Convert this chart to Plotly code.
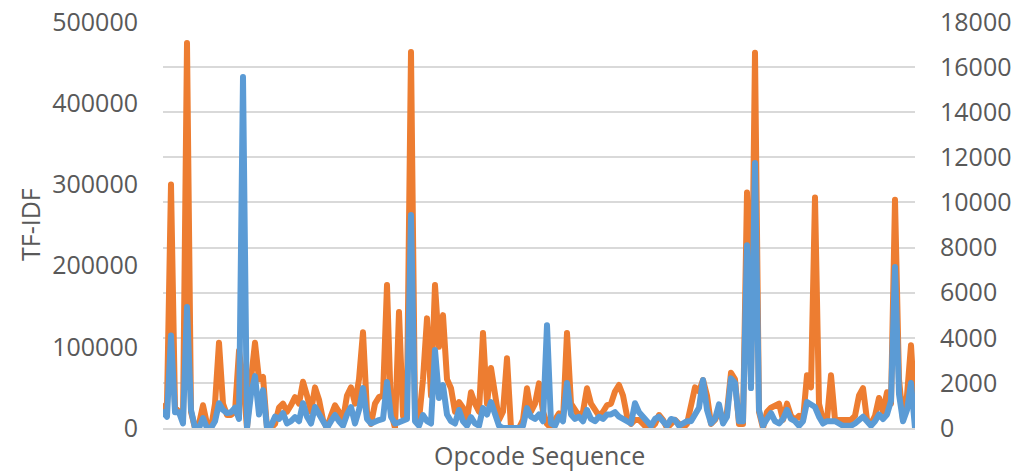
import plotly.graph_objects as go

# TF-IDF (left axis, orange) and second series (right axis, blue), one value per opcode position
tfidf = [25000, 30000, 300000, 25000, 20000, 10000, 474000, 20000, 0, 5000,
         28000, 5000, 0, 30000, 105000, 30000, 16000, 16000, 20000, 95000,
         60000, 0, 60000, 105000, 60000, 63000, 0, 0, 5000, 25000,
         30000, 20000, 28000, 38000, 30000, 57000, 40000, 20000, 50000, 35000,
         10000, 0, 15000, 28000, 20000, 10000, 40000, 50000, 30000, 60000,
         118000, 20000, 5000, 30000, 38000, 40000, 176000, 20000, 0, 143000,
         15000, 40000, 463000, 20000, 10000, 60000, 135000, 40000, 176000, 100000,
         139000, 60000, 49000, 20000, 32000, 25000, 10000, 44000, 30000, 20000,
         117000, 30000, 74000, 40000, 10000, 20000, 86000, 0, 0, 0,
         10000, 49000, 20000, 30000, 55000, 20000, 5000, 0, 10000, 18000,
         10000, 117000, 30000, 22000, 15000, 20000, 49000, 30000, 22000, 15000,
         20000, 28000, 30000, 45000, 53000, 40000, 15000, 5000, 10000, 10000,
         5000, 0, 0, 5000, 16000, 10000, 0, 5000, 10000, 5000,
         0, 5000, 25000, 50000, 45000, 59000, 40000, 5000, 10000, 20000,
         10000, 20000, 68000, 60000, 5000, 5000, 290000, 60000, 462000, 20000,
         0, 20000, 25000, 28000, 30000, 10000, 30000, 15000, 10000, 15000,
         10000, 65000, 50000, 284000, 30000, 10000, 10000, 65000, 10000, 10000,
         10000, 10000, 10000, 15000, 40000, 49000, 10000, 5000, 15000, 37000,
         20000, 44000, 30000, 281000, 60000, 10000, 40000, 102000, 20000]

series2 = [700, 500, 4100, 700, 700, 200, 5360, 800, 0, 0,
           440, 0, 0, 300, 1100, 800, 660, 700, 900, 400,
           15560, 0, 1500, 2300, 600, 1680, 0, 100, 500, 400,
           660, 200, 300, 480, 300, 1100, 500, 200, 930, 600,
           200, 0, 300, 575, 300, 100, 600, 930, 200, 800,
           1770, 400, 200, 300, 350, 400, 2040, 500, 200, 250,
           300, 400, 9440, 300, 100, 575, 300, 200, 3460, 1330,
           1900, 600, 300, 200, 800, 300, 100, 480, 200, 100,
           880, 600, 1150, 500, 100, 0, 0, 0, 0, 0,
           100, 880, 500, 400, 600, 300, 4560, 200, 100, 500,
           300, 2000, 600, 400, 500, 300, 800, 400, 300, 500,
           400, 600, 600, 700, 500, 400, 300, 200, 1100, 700,
           500, 300, 100, 400, 500, 300, 100, 400, 350, 100,
           200, 300, 300, 600, 900, 2130, 800, 200, 400, 1050,
           200, 500, 2200, 2000, 300, 300, 8100, 1770, 11750, 800,
           100, 400, 660, 300, 200, 400, 800, 400, 300, 100,
           300, 1150, 1000, 930, 500, 200, 300, 300, 300, 200,
           100, 100, 100, 200, 400, 500, 300, 100, 300, 600,
           400, 600, 1200, 7140, 1500, 300, 800, 2000, 0]

positions = list(range(len(tfidf)))
left_ticks = [0, 100000, 200000, 300000, 400000, 500000]
right_ticks = [0, 2000, 4000, 6000, 8000, 10000, 12000, 14000, 16000, 18000]

FONT = "Open Sans"
GREY = "#595959"
L, R, T, B = 163, 107, 22, 44
PW = 1022 - L - R
PH = 472 - T - B

fig = go.Figure()
fig.add_trace(go.Scatter(x=positions, y=tfidf, mode="lines",
                         line=dict(color="#ED7D31", width=6), yaxis="y",
                         showlegend=False, cliponaxis=False))
fig.add_trace(go.Scatter(x=positions, y=series2, mode="lines",
                         line=dict(color="#5B9BD5", width=6), yaxis="y2",
                         showlegend=False, cliponaxis=False))

fig.update_layout(
    width=1022, height=472,
    margin=dict(l=L, r=R, t=T, b=B, autoexpand=False),
    paper_bgcolor="white", plot_bgcolor="white",
    font=dict(family=FONT, color=GREY, size=24),
    xaxis=dict(range=[0, len(tfidf) - 1], showticklabels=False, showgrid=False,
               zeroline=False, showline=True, linecolor="#d9d9d9", linewidth=2,
               ticks="", automargin=False),
    yaxis=dict(range=[0, 500000], tickvals=left_ticks,
               ticktext=[str(v) for v in left_ticks], showgrid=False,
               zeroline=False, showline=False, ticks="", automargin=False,
               ticklabelstandoff=24, tickfont=dict(size=25, color=GREY)),
    yaxis2=dict(range=[0, 18000], tickvals=right_ticks,
                ticktext=[str(v) for v in right_ticks], overlaying="y",
                side="right", showgrid=True, gridcolor="#d9d9d9", gridwidth=2,
                zeroline=False, showline=False, ticks="", automargin=False,
                ticklabelstandoff=24, tickfont=dict(size=25, color=GREY)),
    annotations=[
        dict(text="TF-IDF", x=(30 - L) / PW, y=0.5, xref="paper", yref="paper",
             xanchor="center", yanchor="middle", textangle=-90,
             showarrow=False, font=dict(size=25, color=GREY)),
        dict(text="Opcode Sequence", x=0.5, y=-(455 - (T + PH)) / PH,
             xref="paper", yref="paper",
             xanchor="center", yanchor="middle", showarrow=False,
             font=dict(size=25, color=GREY)),
    ],
)

post = (
    "document.body.style.margin='0';"
    "document.body.style.overflow='hidden';"
    "document.querySelectorAll('.scatterlayer path.js-line').forEach(function(p){"
    "p.style.strokeLinejoin='round';p.style.strokeLinecap='round';});"
)

fig.write_html("out.html", config={"displayModeBar": False}, post_script=post)
